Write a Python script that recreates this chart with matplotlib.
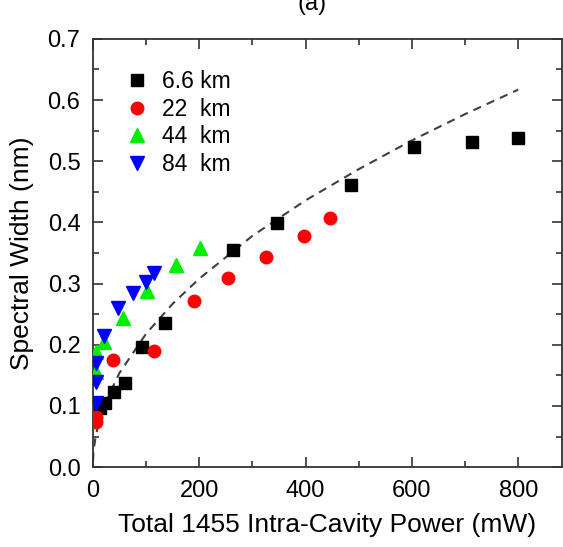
import matplotlib.pyplot as plt
from matplotlib.ticker import MultipleLocator

plt.rcParams['font.family'] = ['Liberation Sans', 'DejaVu Sans']

# 6.6 km
p_66 = [13, 23, 40, 60, 92, 135, 263, 346, 485, 604, 713, 800]
w_66 = [0.097, 0.105, 0.123, 0.137, 0.196, 0.236, 0.355, 0.399, 0.461, 0.523, 0.532, 0.538]
# 22 km
p_22 = [6, 6, 37, 115, 190, 254, 325, 397, 446]
w_22 = [0.073, 0.082, 0.175, 0.190, 0.271, 0.309, 0.343, 0.378, 0.407]
# 44 km
p_44 = [6, 6, 21, 56, 101, 156, 201]
w_44 = [0.155, 0.188, 0.204, 0.244, 0.288, 0.330, 0.358]
# 84 km
p_84 = [6, 6, 6, 21, 47, 75, 100, 115]
w_84 = [0.105, 0.139, 0.170, 0.214, 0.260, 0.285, 0.303, 0.317]

# dashed fit curve
fit_p = [0.2, 1, 2.5, 5, 10, 25, 50, 100, 150, 200, 300, 400, 500, 600, 700, 800]
fit_w = [0.010, 0.022, 0.034, 0.049, 0.069, 0.109, 0.154, 0.218, 0.267, 0.308,
         0.378, 0.436, 0.487, 0.534, 0.577, 0.617]

fig = plt.figure(figsize=(5.63, 5.47), dpi=100)
ax = fig.add_axes([0.165, 0.146, 0.833, 0.783])

ax.plot(fit_p, fit_w, linestyle=(0, (4, 3)), color='#404040', lw=1.5, zorder=1)
ax.plot(p_66, w_66, 's', color='black', ms=8.5, label='6.6 km', zorder=3)
ax.plot(p_22, w_22, 'o', color='red', ms=9, label='22  km', zorder=3)
ax.plot(p_44, w_44, '^', color='#00ee00', ms=10, label='44  km', zorder=3)
ax.plot(p_84, w_84, 'v', color='blue', ms=10, label='84  km', zorder=3)

ax.set_xlim(0, 882)
ax.set_ylim(0, 0.7)
ax.xaxis.set_major_locator(MultipleLocator(200))
ax.xaxis.set_minor_locator(MultipleLocator(100))
ax.yaxis.set_major_locator(MultipleLocator(0.1))
ax.yaxis.set_minor_locator(MultipleLocator(0.05))
ax.yaxis.set_major_formatter(plt.FuncFormatter(lambda v, _: f'{v:.1f}'))
ax.tick_params(which='both', direction='in', top=True, right=True,
               labelsize=17, color='#333333', width=1.2)
ax.tick_params(which='major', length=7, pad=9)
ax.tick_params(which='minor', length=4)
for s in ax.spines.values():
    s.set_color('#333333')
    s.set_linewidth(1.3)

ax.set_xlabel('Total 1455 Intra-Cavity Power (mW)', fontsize=19, labelpad=8)
ax.set_ylabel('Spectral Width (nm)', fontsize=19, labelpad=10)

ax.legend(loc='upper left', bbox_to_anchor=(0.02, 0.975), frameon=False,
          numpoints=1, fontsize=16.5, handletextpad=0.5, labelspacing=0.2,
          handlelength=1.2)

fig.text(312 / 563, 0.992, '(a)', fontsize=17, ha='center', va='center')

fig.savefig('out.png', dpi=100)
